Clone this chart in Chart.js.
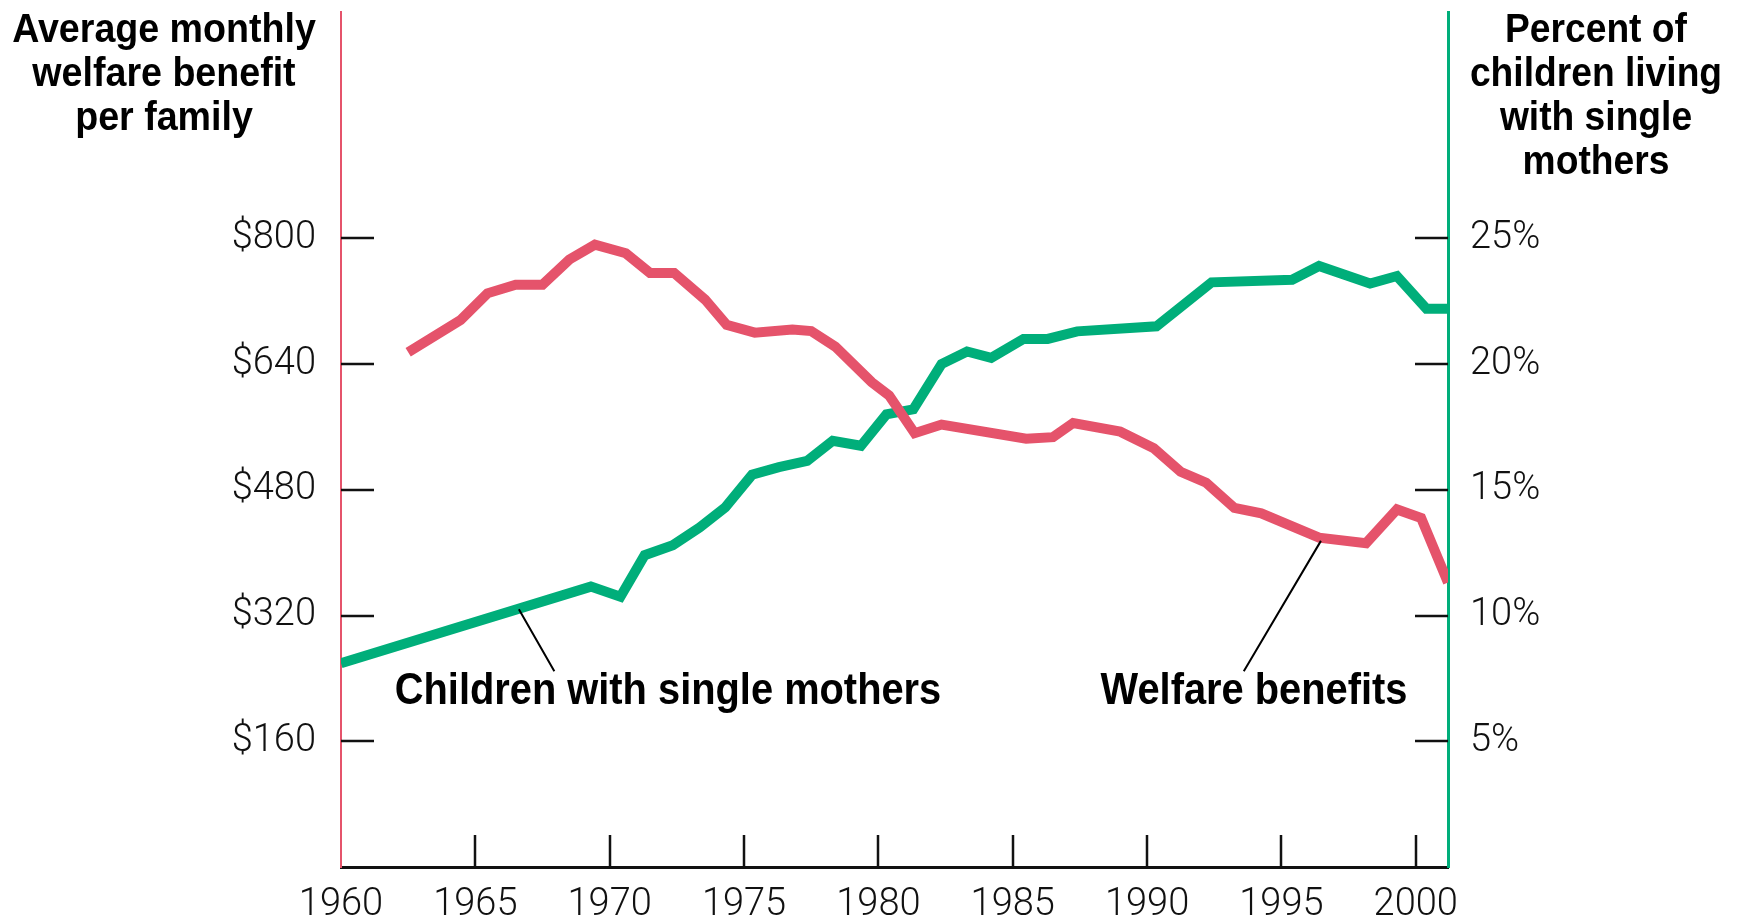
<!DOCTYPE html>
<html><head><meta charset="utf-8">
<script src="https://cdn.jsdelivr.net/npm/chart.js@4/dist/chart.umd.min.js"></script>
<style>html,body{margin:0;padding:0;background:#fff;}canvas{display:block;}</style>
</head><body>
<canvas id="c" width="1740" height="924"></canvas>
<script>
// ---- Data (x positions are mid-year plot positions) ----
const welfareYears = [1962.5,1964.45,1965.45,1966.5,1967.5,1968.5,1969.45,1970.6,1971.5,1972.4,1973.55,1974.35,1975.4,1976.8,1977.5,1978.4,1979.75,1980.4,1981.35,1982.35,1985.5,1986.5,1987.25,1989.0,1990.25,1991.25,1992.2,1993.25,1994.25,1996.4,1998.15,1999.3,2000.2,2001.2];
const welfareValues = [655,696,730,741,741,773,792,781,756,756,722,690,680,684,682,662,617,600,552,563,545,547,565,554,533,503,489,457,450,419,412,455,444,362];

const childYears = [1960,1969.3,1970.4,1971.3,1972.35,1973.35,1974.3,1975.3,1976.3,1977.35,1978.3,1979.35,1980.3,1981.3,1982.35,1983.3,1984.2,1985.4,1986.3,1987.4,1990.35,1992.4,1995.4,1996.4,1998.3,1999.3,2000.4,2001.2];
const childValues = [8.1,11.15,10.75,12.4,12.8,13.5,14.3,15.6,15.9,16.15,16.95,16.75,18.0,18.2,20.0,20.5,20.25,21.0,21.0,21.3,21.5,23.25,23.35,23.9,23.2,23.5,22.2,22.2];

const xTickYears = [1960,1965,1970,1975,1980,1985,1990,1995,2000];
const dollarTicks = [160,320,480,640,800];
const percentTicks = [5,10,15,20,25];

const leftTitle = ['Average monthly','welfare benefit','per family'];
const rightTitle = ['Percent of','children living','with single','mothers'];
const childLabel = 'Children with single mothers';
const welfareLabel = 'Welfare benefits';

const RED = '#E5536B';
const GREEN = '#00AE7A';

function drawCond(ctx, text, cx, baseline, font, sx){
  ctx.save();
  ctx.font = font; ctx.fillStyle = '#000';
  ctx.textAlign = 'center'; ctx.textBaseline = 'alphabetic';
  ctx.translate(cx, baseline); ctx.scale(sx, 1);
  ctx.fillText(text, 0, 0);
  ctx.restore();
}

const inwardTicks = {
  id: 'inwardTicks',
  beforeDatasetsDraw(chart){
    const {ctx, chartArea: a, scales: {x, y, y1}} = chart;
    ctx.save();
    ctx.strokeStyle = '#111'; ctx.lineWidth = 2.5; ctx.beginPath();
    dollarTicks.forEach(v => { const py = Math.round(y.getPixelForValue(v)); ctx.moveTo(a.left, py); ctx.lineTo(a.left + 33, py); });
    percentTicks.forEach(v => { const py = Math.round(y1.getPixelForValue(v)); ctx.moveTo(a.right - 33, py); ctx.lineTo(a.right, py); });
    xTickYears.slice(1).forEach(v => { const px = Math.round(x.getPixelForValue(v)); ctx.moveTo(px, a.bottom); ctx.lineTo(px, a.bottom - 32); });
    ctx.stroke();
    ctx.restore();
  }
};

const annotations = {
  id: 'annotations',
  afterDraw(chart){
    const {ctx, scales: {x, y}} = chart;
    const tf = 'bold 40px "Liberation Sans", Arial, sans-serif';
    leftTitle.forEach((t, i) => drawCond(ctx, t, 164, 41.5 + i * 44, tf, 0.94));
    rightTitle.forEach((t, i) => drawCond(ctx, t, 1596, 41.5 + i * 44, tf, 0.93));
    const af = 'bold 44px "Liberation Sans", Arial, sans-serif';
    drawCond(ctx, childLabel, 668, 703.5, af, 0.905);
    drawCond(ctx, welfareLabel, 1254, 703.5, af, 0.905);
    // leader lines (data coordinates)
    ctx.save();
    ctx.strokeStyle = '#000'; ctx.lineWidth = 2;
    ctx.beginPath();
    ctx.moveTo(x.getPixelForValue(1966.62), y.getPixelForValue(328));
    ctx.lineTo(x.getPixelForValue(1967.94), y.getPixelForValue(249));
    ctx.moveTo(x.getPixelForValue(1996.47), y.getPixelForValue(415));
    ctx.lineTo(x.getPixelForValue(1993.6), y.getPixelForValue(249));
    ctx.stroke();
    ctx.restore();
  }
};

const tickFont = {family: 'Roboto, "Liberation Sans", Arial, sans-serif', size: 38, weight: '300'};

function noPad(s){ s.paddingTop = 0; s.paddingBottom = 0; s.paddingLeft = 0; s.paddingRight = 0; }

new Chart(document.getElementById('c'), {
  type: 'line',
  data: {
    datasets: [
      {
        label: welfareLabel,
        data: welfareYears.map((yr, i) => ({x: yr, y: welfareValues[i]})),
        borderColor: RED, borderWidth: 10, yAxisID: 'y',
        pointRadius: 0, tension: 0, borderJoinStyle: 'miter', borderCapStyle: 'butt', fill: false
      },
      {
        label: childLabel,
        data: childYears.map((yr, i) => ({x: yr, y: childValues[i]})),
        borderColor: GREEN, borderWidth: 10, yAxisID: 'y1',
        pointRadius: 0, tension: 0, borderJoinStyle: 'miter', borderCapStyle: 'butt', fill: false
      }
    ]
  },
  options: {
    responsive: false,
    animation: false,
    devicePixelRatio: 1,
    layout: {padding: {top: 12, left: 0, right: 0, bottom: 0}},
    plugins: {legend: {display: false}, tooltip: {enabled: false}},
    scales: {
      x: {
        type: 'linear', position: 'bottom', min: 1960, max: 2001.2,
        afterBuildTicks: s => { s.ticks = xTickYears.map(v => ({value: v})); },
        afterFit: s => { s.height = 57; noPad(s); },
        grid: {display: false, drawTicks: false},
        border: {display: true, color: '#111', width: 3},
        ticks: {font: tickFont, color: '#111', padding: 16, maxRotation: 0, autoSkip: false, callback: v => String(v)}
      },
      y: {
        type: 'linear', position: 'left', min: 0, max: 1088,
        afterBuildTicks: s => { s.ticks = dollarTicks.map(v => ({value: v})); },
        afterFit: s => { s.width = 341; noPad(s); },
        grid: {display: false, drawTicks: false},
        border: {display: true, color: RED, width: 2},
        ticks: {font: tickFont, color: '#111', padding: 25, callback: v => '$' + v}
      },
      y1: {
        type: 'linear', position: 'right', min: 0, max: 34,
        afterBuildTicks: s => { s.ticks = percentTicks.map(v => ({value: v})); },
        afterFit: s => { s.width = 292; noPad(s); },
        grid: {display: false, drawTicks: false},
        border: {display: true, color: GREEN, width: 3},
        ticks: {font: tickFont, color: '#111', padding: 22, callback: v => v + '%'}
      }
    }
  },
  plugins: [inwardTicks, annotations]
});
</script>
</body></html>
